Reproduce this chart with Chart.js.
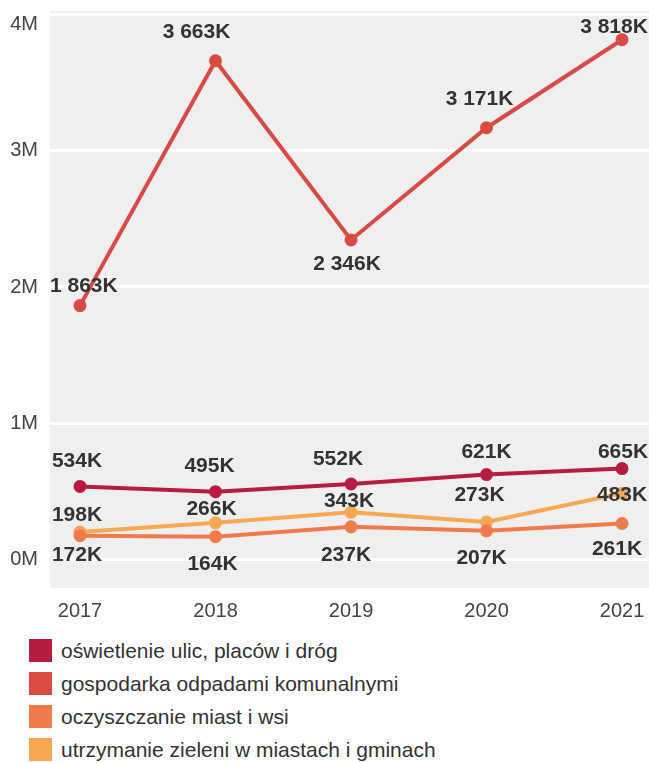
<!DOCTYPE html>
<html>
<head>
<meta charset="utf-8">
<script src="https://cdn.jsdelivr.net/npm/chart.js@4/dist/chart.umd.min.js"></script>
<style>
  body { margin: 0; background: #fff; font-family: "Liberation Sans", Arial, sans-serif; }
  #wrap { position: relative; width: 649px; height: 763px; }
  #legend { position: absolute; left: 29px; top: 634px; }
  .item { display: flex; align-items: center; height: 33px; font-size: 21px; color: #333; }
  .box { width: 23px; height: 23px; margin-right: 9px; }
</style>
</head>
<body>
<div id="wrap">
  <canvas id="chart" width="649" height="628"></canvas>
  <div id="legend"></div>
</div>
<script>
// values in thousands (K)
const years = ['2017', '2018', '2019', '2020', '2021'];
const oswietlenie = [534, 495, 552, 621, 665];
const gospodarka = [1863, 3663, 2346, 3171, 3818];
const oczyszczanie = [172, 164, 237, 207, 261];
const utrzymanie = [198, 266, 343, 273, 483];
const yTicks = [0, 1000, 2000, 3000, 4000];

const names = [
  'oświetlenie ulic, placów i dróg',
  'gospodarka odpadami komunalnymi',
  'oczyszczanie miast i wsi',
  'utrzymanie zieleni w miastach i gminach'
];
const colors = ['#b71c40', '#d84a42', '#ef7a4c', '#f8a752'];

// label offsets from the point (dx, dy), picked by eye to match the original
const labelOffsets = [
  [[-3, -27], [-6, -27], [-13, -26], [0, -24], [1, -18]],
  [[0, -21], [-19, -30], [-4, 23], [-7, -30], [-8, -14]],
  [[-3, 18], [-3, 26], [-5, 27], [-5, 26], [-5, 24]],
  [[-3, -19], [-4, -15], [-2, -13], [-7, -28], [0, 0]]
];

const series = [oswietlenie, gospodarka, oczyszczanie, utrzymanie];

function fmtK(v) {
  return String(v).replace(/\B(?=(\d{3})+(?!\d))/g, ' ') + 'K';
}

// no extra room for the outer tick labels
function noPadding(scale) {
  scale.paddingTop = 0;
  scale.paddingBottom = 0;
  scale.paddingLeft = 0;
  scale.paddingRight = 0;
}

const bgPlugin = {
  id: 'bg',
  beforeDraw(chart) {
    const a = chart.chartArea;
    const ctx = chart.ctx;
    ctx.save();
    ctx.fillStyle = '#efefef';
    ctx.fillRect(a.left, a.top, a.right - a.left, a.bottom - a.top);
    ctx.restore();
  }
};

const labelPlugin = {
  id: 'valueLabels',
  afterDatasetsDraw(chart) {
    const ctx = chart.ctx;
    const a = chart.chartArea;
    ctx.save();
    ctx.font = 'bold 21px "Liberation Sans", Arial, sans-serif';
    ctx.fillStyle = '#333';
    ctx.textAlign = 'center';
    ctx.textBaseline = 'alphabetic';
    chart.data.datasets.forEach((ds, i) => {
      const meta = chart.getDatasetMeta(i);
      meta.data.forEach((pt, j) => {
        const txt = fmtK(series[i][j]);
        const w = ctx.measureText(txt).width;
        const off = labelOffsets[i][j];
        let x = pt.x + off[0];
        let y = pt.y + off[1];
        x = Math.max(a.left + w / 2, Math.min(a.right - w / 2, x));
        ctx.fillText(txt, x, y + 7.5);
      });
    });
    ctx.restore();
  }
};

const datasets = series.map((s, i) => ({
  label: names[i],
  data: s.map((v, j) => ({ x: j, y: v })),
  borderColor: colors[i],
  backgroundColor: colors[i],
  borderWidth: 4,
  pointRadius: 4.5,
  pointHoverRadius: 4.5,
  tension: 0
}));

new Chart(document.getElementById('chart'), {
  type: 'line',
  data: { datasets: datasets },
  options: {
    responsive: false,
    animation: false,
    layout: { autoPadding: false, padding: { top: 11, right: 0, left: 0, bottom: 0 } },
    plugins: {
      legend: { display: false },
      tooltip: { enabled: false }
    },
    scales: {
      x: {
        type: 'linear',
        min: -0.2214,
        max: 4.199,
        afterBuildTicks: (scale) => { scale.ticks = years.map((y, i) => ({ value: i })); },
        afterFit: (scale) => { scale.height = 40; noPadding(scale); },
        grid: { display: false, drawTicks: false },
        border: { display: false },
        ticks: {
          callback: (v) => years[v],
          font: { size: 20, family: '"Liberation Sans", Arial, sans-serif' },
          color: '#444',
          padding: 11,
          maxRotation: 0
        }
      },
      y: {
        min: -213,
        max: 4029,
        afterBuildTicks: (scale) => { scale.ticks = yTicks.map(v => ({ value: v })); },
        afterFit: (scale) => { scale.width = 50; noPadding(scale); },
        grid: { color: '#ffffff', lineWidth: 3, drawTicks: false },
        border: { display: false },
        ticks: {
          // top label sits a little below its grid line, as in the original
          callback: (v) => v === 4000 ? ['', '4M'] : (v / 1000) + 'M',
          font: { size: 20, lineHeight: 1, family: '"Liberation Sans", Arial, sans-serif' },
          color: '#444',
          padding: 12
        }
      }
    }
  },
  plugins: [bgPlugin, labelPlugin]
});

const legend = document.getElementById('legend');
names.forEach((n, i) => {
  const row = document.createElement('div');
  row.className = 'item';
  row.innerHTML = '<span class="box" style="background:' + colors[i] + '"></span><span>' + n + '</span>';
  legend.appendChild(row);
});
</script>
</body>
</html>
